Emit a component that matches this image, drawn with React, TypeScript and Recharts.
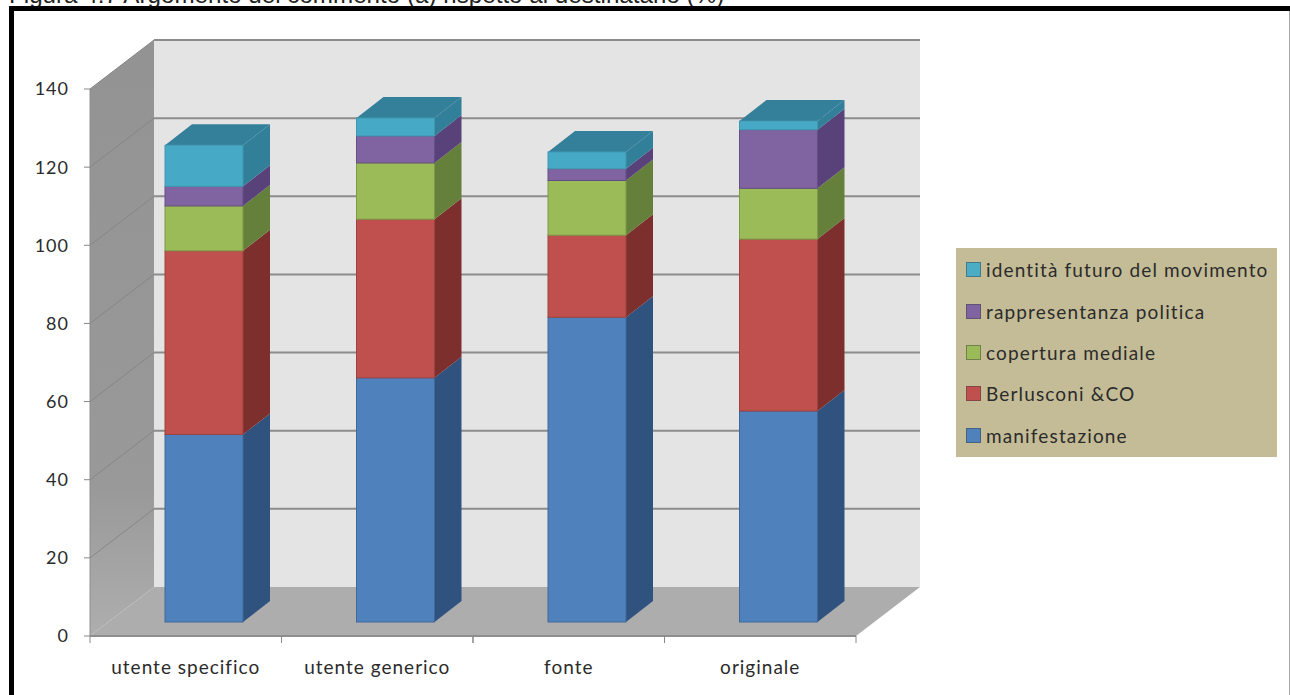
import { Bar, BarChart, CartesianGrid, Legend, XAxis, YAxis } from "recharts";

const categories = ["utente specifico", "utente generico", "fonte", "originale"];
const manifestazione = [48, 62.5, 78, 54];
const berlusconi = [47, 40.6, 21, 44];
const copertura = [11.5, 14.4, 14, 13];
const rappresentanza = [5, 6.9, 3, 15];
const identita = [10.5, 4.6, 4.3, 2.2];
const yTicks = [0, 20, 40, 60, 80, 100, 120, 140];

const data = categories.map((name, i) => ({
  name,
  manifestazione: manifestazione[i],
  berlusconi: berlusconi[i],
  copertura: copertura[i],
  rappresentanza: rappresentanza[i],
  identita: identita[i],
}));

// plot rectangle on the front plane, everything else hangs off it
const LEFT = 90;
const RIGHT = 856;
const TOP = 89;
const BOTTOM = 636;
const WALL_DX = 64;
const WALL_DY = 49;
const BAR_SHIFT_X = 18;
const BAR_SHIFT_Y = 14;
const BAR_DX = 27;
const BAR_DY = 21;
const STEP = (RIGHT - LEFT) / categories.length;
const TEXT = "#2b2b2b";
const LABEL_FONT = "Lato, sans-serif";

// page frame, caption and the walls sit in their own svg behind the chart
const Scene = () => (
  <svg width={1290} height={695} style={{ position: "absolute", left: 0, top: 0 }}>
    <defs>
      <linearGradient id="sideWall" x1="0" y1="0" x2="0" y2="1">
        <stop offset="0" stopColor="#939393" />
        <stop offset="0.75" stopColor="#999999" />
        <stop offset="1" stopColor="#aeaeae" />
      </linearGradient>
    </defs>
    <text x={9} y={3} fontFamily="Liberation Sans, Arial, sans-serif" fontSize={24.2} fill="#222">
      Figura 4.7 Argomento del commento (a) rispetto al destinatario (%)
    </text>
    <rect x={9} y={6} width={1281} height={5} fill="#000" />
    <rect x={9} y={6} width={5} height={689} fill="#000" />
    <rect x={1289} y={11} width={1} height={684} fill="#a8a8a8" />
    <rect
      x={LEFT + WALL_DX}
      y={TOP - WALL_DY}
      width={RIGHT - LEFT}
      height={BOTTOM - TOP}
      fill="#e4e4e4"
    />
    <polygon
      points={`${LEFT},${TOP} ${LEFT + WALL_DX},${TOP - WALL_DY} ${LEFT + WALL_DX},${BOTTOM - WALL_DY} ${LEFT},${BOTTOM}`}
      fill="url(#sideWall)"
    />
    <polygon
      points={`${LEFT},${BOTTOM} ${LEFT + WALL_DX},${BOTTOM - WALL_DY} ${RIGHT + WALL_DX},${BOTTOM - WALL_DY} ${RIGHT},${BOTTOM}`}
      fill="#adadad"
    />
    <line x1={LEFT} y1={BOTTOM} x2={RIGHT} y2={BOTTOM} stroke="#8e8e8e" strokeWidth={2} />
  </svg>
);

// grid line runs along the side wall, then across the back wall
const gridLine = (props: any) => {
  const { x1, x2, y1, key } = props;
  if (y1 >= BOTTOM - 1) return <g key={key} />;
  return (
    <g key={key}>
      <line
        x1={x1}
        y1={y1}
        x2={x1 + WALL_DX}
        y2={y1 - WALL_DY}
        stroke="#868686"
        strokeWidth={1}
      />
      <line
        x1={x1 + WALL_DX}
        y1={y1 - WALL_DY}
        x2={x2 + WALL_DX}
        y2={y1 - WALL_DY}
        stroke="#8c8c8c"
        strokeWidth={2}
      />
    </g>
  );
};

const makeShape = (front: string, side: string, edge: string, top?: string) => (props: any) => {
  const x = props.x + BAR_SHIFT_X;
  const y = props.y - BAR_SHIFT_Y;
  const { width, height } = props;
  const right = x + width;
  const bottom = y + height;
  return (
    <g>
      <polygon
        points={`${right},${y} ${right + BAR_DX},${y - BAR_DY} ${right + BAR_DX},${bottom - BAR_DY} ${right},${bottom}`}
        fill={side}
      />
      {top && (
        <polygon
          points={`${x},${y} ${x + BAR_DX},${y - BAR_DY} ${right + BAR_DX},${y - BAR_DY} ${right},${y}`}
          fill={top}
        />
      )}
      <rect x={x} y={y} width={width} height={height} fill={front} stroke={edge} strokeWidth={1} />
    </g>
  );
};

const xTick = (props: any) => {
  const { x, y, payload } = props;
  return (
    <g>
      <line x1={x - STEP / 2} y1={BOTTOM} x2={x - STEP / 2} y2={BOTTOM + 7} stroke="#888" />
      <line x1={x + STEP / 2} y1={BOTTOM} x2={x + STEP / 2} y2={BOTTOM + 7} stroke="#888" />
      <text
        x={x}
        y={y + 30}
        textAnchor="middle"
        fontFamily={LABEL_FONT}
        fontSize={19}
        letterSpacing={1}
        fill={TEXT}
      >
        {payload.value}
      </text>
    </g>
  );
};

const LegendBox = (props: any) => {
  const items = [...(props.payload ?? [])].reverse();
  return (
    <div
      style={{
        width: 321,
        height: 209,
        background: "#c4bc96",
        boxSizing: "border-box",
        paddingTop: 1,
      }}
    >
      {items.map((item: any) => (
        <div
          key={item.value}
          style={{
            height: 41.4,
            display: "flex",
            alignItems: "center",
            paddingLeft: 10,
            fontFamily: LABEL_FONT,
            fontSize: 19,
            letterSpacing: 1.15,
            color: TEXT,
            whiteSpace: "nowrap",
          }}
        >
          <span
            style={{
              flexShrink: 0,
              width: 13,
              height: 13,
              marginRight: 5,
              background: item.color,
              border: "1px solid rgba(60,60,60,0.45)",
            }}
          />
          {item.value}
        </div>
      ))}
    </div>
  );
};

export default function App() {
  return (
    <div style={{ position: "absolute", left: 0, top: 0, width: 1290, height: 695, overflow: "hidden", background: "#fff" }}>
      <Scene />
      <BarChart
        width={1290}
        height={695}
        data={data}
        barSize={78}
        margin={{ top: TOP, right: 1290 - RIGHT, bottom: 0, left: 30 }}
      >
        <CartesianGrid vertical={false} horizontal={gridLine} />
        <XAxis
          dataKey="name"
          height={695 - BOTTOM}
          axisLine={false}
          tickLine={false}
          interval={0}
          tick={xTick}
        />
        <YAxis
          width={60}
          domain={[0, 140]}
          ticks={yTicks}
          allowDataOverflow
          axisLine={{ stroke: "#8e8e8e" }}
          tickLine={{ stroke: "#888" }}
          tickSize={6}
          tickMargin={15}
          tick={{ fontFamily: LABEL_FONT, fontSize: 18, fill: TEXT, letterSpacing: 1 }}
        />
        <Legend
          layout="vertical"
          align="center"
          verticalAlign="middle"
          itemSorter={null}
          content={LegendBox}
          wrapperStyle={{ left: 956, top: 248, width: 321, height: 209 }}
        />
        <Bar
          dataKey="manifestazione"
          name="manifestazione"
          stackId="a"
          fill="#4f81bd"
          isAnimationActive={false}
          shape={makeShape("#4f81bd", "#30527f", "#3f6899")}
        />
        <Bar
          dataKey="berlusconi"
          name="Berlusconi &CO"
          stackId="a"
          fill="#c0504d"
          isAnimationActive={false}
          shape={makeShape("#c0504d", "#7c2f2d", "#9c4341")}
        />
        <Bar
          dataKey="copertura"
          name="copertura mediale"
          stackId="a"
          fill="#9bbb59"
          isAnimationActive={false}
          shape={makeShape("#9bbb59", "#65803a", "#7d9a47")}
        />
        <Bar
          dataKey="rappresentanza"
          name="rappresentanza politica"
          stackId="a"
          fill="#8064a2"
          isAnimationActive={false}
          shape={makeShape("#8064a2", "#59427a", "#664f85")}
        />
        <Bar
          dataKey="identita"
          name="identità futuro del movimento"
          stackId="a"
          fill="#4bacc6"
          isAnimationActive={false}
          shape={makeShape("#46a9c6", "#327f99", "#3f97b0", "#34809a")}
        />
      </BarChart>
    </div>
  );
}
